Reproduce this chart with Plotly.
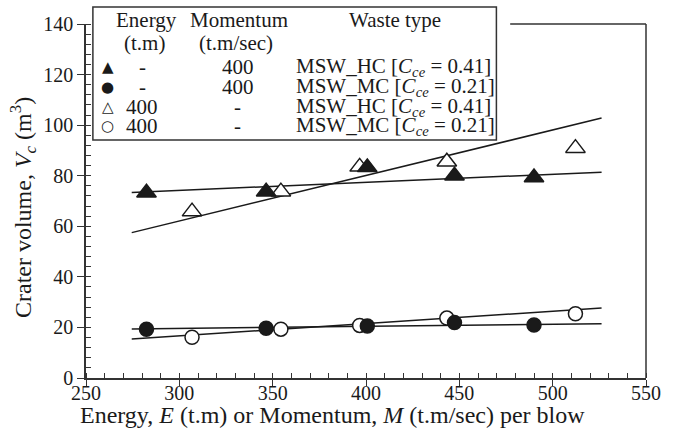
import plotly.graph_objects as go

# ---- data ----
momentum_x = [282.4, 346.5, 400.7, 447.4, 490.0]
hc_momentum_y = [73.3, 73.7, 83.3, 80.0, 79.3]
mc_momentum_y = [19.3, 19.7, 20.6, 21.9, 21.0]

energy_x = [306.8, 354.4, 396.6, 443.3, 512.2]
hc_energy_y = [65.8, 73.7, 83.5, 85.5, 90.9]
mc_energy_y = [16.1, 19.3, 20.8, 23.7, 25.4]

fit_x = [274.5, 526.2]
fit_hc_momentum = [73.4, 81.4]
fit_hc_energy = [57.5, 102.8]
fit_mc_momentum = [19.4, 21.5]
fit_mc_energy = [15.4, 27.7]

x_ticks = [250, 300, 350, 400, 450, 500, 550]
y_ticks = [0, 20, 40, 60, 80, 100, 120, 140]

x_title = "Energy, <i>E</i> (t.m) or Momentum, <i>M</i> (t.m/sec) per blow"
y_title = "Crater volume, <i>V<sub>c</sub></i> (m<sup>3</sup>)"

legend_energy = ["-", "-", "400", "400"]
legend_momentum = ["400", "400", "-", "-"]
legend_waste = ["MSW_HC [<i>C<sub>ce</sub></i> = 0.41]",
                "MSW_MC [<i>C<sub>ce</sub></i> = 0.21]",
                "MSW_HC [<i>C<sub>ce</sub></i> = 0.41]",
                "MSW_MC [<i>C<sub>ce</sub></i> = 0.21]"]
legend_symbols = ["\u25B2", "\u25CF", "\u25B3", "\u25CB"]

# ---- layout geometry ----
W, H = 673, 443
ML, MR, MT, MB = 86, 18, 24, 65
PW, PH = W - ML - MR, H - MT - MB

def px(xp):
    return (xp - ML) / PW

def py(yp):
    return (H - MB - yp) / PH

FONT = "Liberation Serif"
INK = "#1a1a1a"

fig = go.Figure()

for yv in [fit_hc_momentum, fit_hc_energy, fit_mc_momentum, fit_mc_energy]:
    fig.add_trace(go.Scatter(x=fit_x, y=yv, mode="lines",
                             line=dict(color=INK, width=1.5), showlegend=False,
                             hoverinfo="skip"))

def pts(x, y, sym, size, filled):
    fig.add_trace(go.Scatter(
        x=x, y=y, mode="markers", showlegend=False, cliponaxis=False,
        marker=dict(symbol=sym, size=size,
                    color=INK if filled else "white",
                    line=dict(color=INK, width=1.5))))

pts(energy_x, hc_energy_y, "triangle-up", 17, False)
pts(momentum_x, hc_momentum_y, "triangle-up", 17, True)
pts(energy_x, mc_energy_y, "circle", 14, False)
pts(momentum_x, mc_momentum_y, "circle", 14, True)

shapes = []
# legend box
shapes.append(dict(type="rect", xref="paper", yref="paper",
                   x0=px(93), x1=px(503), y0=py(140), y1=py(7),
                   line=dict(color="#333", width=1.5), fillcolor="white",
                   layer="above"))
# partial frame (top and right)
shapes.append(dict(type="line", xref="paper", yref="paper",
                   x0=px(517), x1=1, y0=1, y1=1,
                   line=dict(color="#333", width=1.5)))
shapes.append(dict(type="line", xref="paper", yref="paper",
                   x0=1, x1=1, y0=0, y1=1,
                   line=dict(color="#333", width=1.5)))

ann = []
def text(s, x, y, anchor="center", size=21, fam=FONT, angle=0):
    ann.append(dict(text=s, xref="paper", yref="paper", x=px(x), y=py(y),
                    xanchor=anchor, yanchor="middle", showarrow=False,
                    textangle=angle,
                    font=dict(family=fam, size=size, color=INK)))

text("Energy", 147, 20)
text("Momentum", 241, 20)
text("Waste type", 400, 20)
text("(t.m)", 145, 43)
text("(t.m/sec)", 238, 43)
rows_y = [67, 87, 107, 126]
for i, ry in enumerate(rows_y):
    text(legend_symbols[i], 108, ry, size=15, fam="DejaVu Sans")
    text(legend_energy[i], 143, ry)
    text(legend_momentum[i], 240, ry)
    text(legend_waste[i], 297, ry, anchor="left")

# axis titles
text(x_title, 336, 415, size=24)
text(y_title, 22, 208, size=24, angle=-90)

fig.update_layout(
    width=W, height=H,
    margin=dict(l=ML, r=MR, t=MT, b=MB),
    paper_bgcolor="white", plot_bgcolor="white",
    font=dict(family=FONT, size=20, color=INK),
    shapes=shapes, annotations=ann,
)
fig.update_xaxes(
    range=[250, 550], tickvals=x_ticks, ticks="outside", ticklen=6,
    tickwidth=1.2, tickcolor="#333", showline=True, linecolor="#333",
    linewidth=1.5, showgrid=False, zeroline=False,
    minor=dict(dtick=10, ticks="inside", ticklen=5, tickcolor="#333", tickwidth=1, showgrid=False),
    tickfont=dict(size=20), ticklabelstandoff=-10,
)
fig.update_yaxes(
    range=[0, 140], tickvals=y_ticks, ticks="outside", ticklen=7,
    tickwidth=1.2, tickcolor="#333", showline=True, linecolor="#333",
    linewidth=1.5, showgrid=False, zeroline=False,
    minor=dict(dtick=4, ticks="inside", ticklen=5, tickcolor="#333", tickwidth=1, showgrid=False),
    tickfont=dict(size=20),
)

fig.write_html("out.html", config={"displayModeBar": False},
               post_script="document.body.style.margin='0';")
